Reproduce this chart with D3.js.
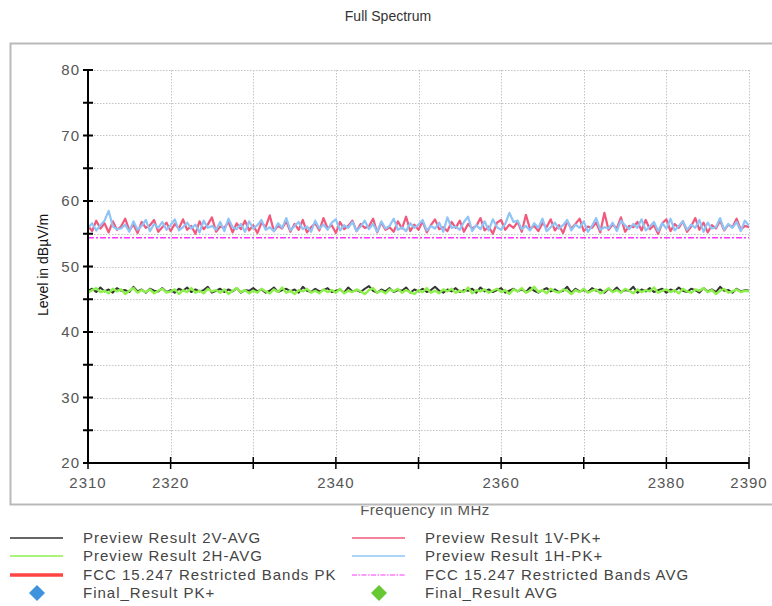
<!DOCTYPE html>
<html><head><meta charset="utf-8">
<script src="https://cdn.jsdelivr.net/npm/d3@7"></script>
<style>
body{margin:0;background:#fff;}
text{font-family:"Liberation Sans",Arial,sans-serif;}
</style></head>
<body><svg id="c" width="772" height="606"></svg>
<script>
const title = "Full Spectrum";
const xLabel = "Frequency in MHz";
const yLabel = "Level in dBµV/m";
const xDomain = [2310, 2390];
const yDomain = [20, 80];
const xTickLabels = [2310, 2320, 2340, 2360, 2380, 2390];
const xTicks = [2310, 2320, 2330, 2340, 2350, 2360, 2370, 2380, 2390];
const yTickLabels = [20, 30, 40, 50, 60, 70, 80];
const yTicks = [20, 25, 30, 35, 40, 45, 50, 55, 60, 65, 70, 75, 80];
const freqStart = 2310, freqStep = 0.5;

const pk1V = [
56.2,55.4,57.0,55.8,56.6,55.2,56.9,55.6,56.1,57.3,55.5,56.4,55.1,56.8,55.9,56.3,57.1,55.3,56.0,56.7,
55.4,56.5,55.8,57.2,55.6,56.2,55.0,56.9,55.7,56.4,57.5,55.3,56.1,55.9,56.8,55.2,56.6,55.7,57.0,55.5,
56.3,55.1,56.7,56.0,57.8,55.4,56.2,55.8,56.9,55.3,56.5,55.6,57.1,55.2,56.0,56.6,55.5,57.4,55.8,56.3,
55.1,56.8,55.7,56.2,57.0,55.4,56.5,55.9,56.1,57.3,55.2,56.7,55.6,56.0,55.3,56.9,55.8,57.6,55.4,56.4,
55.6,56.9,55.2,56.3,57.2,55.7,56.0,55.4,56.8,55.9,57.0,55.3,56.5,55.8,56.2,57.4,55.5,56.1,55.0,56.7,
57.1,55.6,56.4,55.9,56.8,55.3,57.9,55.7,56.2,55.4,56.6,56.0,57.2,55.5,56.3,55.1,56.9,55.8,56.5,57.3,
55.4,56.1,55.9,56.7,55.2,58.2,55.6,56.4,55.8,57.5,55.3,56.2,56.0,56.8,55.5,57.1,55.7,56.3,55.0,56.6,
57.2,55.4,56.5,55.9,56.9,55.3,56.1,57.4,55.6,56.7,55.2,56.3,55.8,57.0,55.5,56.4,56.0,57.3,55.6,56.2,
56.0];
const pk1H = [
55.9,56.6,55.5,56.3,57.0,58.5,56.1,55.7,55.8,56.4,55.3,56.9,55.6,56.2,57.1,55.4,56.5,55.9,56.8,55.6,
56.3,57.2,55.5,56.0,56.7,55.8,56.4,55.2,57.0,55.9,56.2,55.6,56.8,55.4,57.3,56.0,55.7,56.5,55.3,56.9,
55.8,56.3,57.1,55.6,56.0,55.4,56.6,55.9,57.4,55.5,56.2,56.8,55.7,56.1,55.3,57.0,55.8,56.4,55.6,56.7,
57.2,55.5,56.3,55.9,56.8,55.4,56.1,57.0,55.7,56.5,55.3,56.9,55.8,56.2,57.3,55.6,56.0,55.4,56.6,55.9,
56.4,57.1,55.5,56.2,55.8,56.7,55.3,57.5,55.9,56.1,55.6,56.8,57.6,55.4,56.3,55.7,56.9,55.5,57.2,56.0,
55.6,56.5,58.2,56.8,57.0,55.7,56.2,55.5,56.6,55.9,57.3,55.4,56.0,56.7,55.8,56.3,57.1,55.5,56.4,55.9,
56.9,55.3,56.2,57.4,55.6,56.0,55.8,56.7,55.4,57.0,56.3,55.7,56.5,55.9,57.2,55.5,56.1,56.8,55.4,56.6,
55.8,57.3,55.5,56.2,56.9,55.6,56.4,55.9,57.1,55.3,56.7,55.8,56.0,57.4,55.6,56.5,55.9,56.8,55.4,57.0,
56.2];
const avg2V = [
46.3,46.6,46.1,46.8,46.2,46.5,46.0,46.7,46.3,46.4,46.1,46.9,46.2,46.5,46.0,46.6,46.3,46.2,46.7,46.1,
46.4,46.0,46.6,46.3,46.8,46.1,46.5,46.2,46.4,46.9,46.0,46.3,46.6,46.1,46.5,46.2,46.7,46.0,46.4,46.3,
46.7,46.2,46.5,46.0,46.3,46.8,46.1,46.4,46.6,46.2,46.5,46.0,46.9,46.3,46.1,46.6,46.2,46.4,46.7,46.1,
46.3,46.5,46.0,46.8,46.2,46.4,46.1,46.6,47.0,46.3,46.0,46.5,46.2,46.7,46.1,46.4,46.3,46.8,46.0,46.5,
46.2,46.6,46.1,46.4,46.9,46.3,46.0,46.5,46.2,46.7,46.1,46.4,46.3,46.6,46.0,46.8,46.2,46.5,46.1,46.4,
46.7,46.0,46.3,46.6,46.2,46.5,46.1,46.8,46.3,46.0,46.4,46.7,46.2,46.5,46.1,46.3,46.9,46.0,46.6,46.2,
46.4,46.1,46.7,46.3,46.5,46.0,46.6,46.2,46.8,46.1,46.4,46.3,46.9,46.0,46.5,46.2,46.7,46.1,46.4,46.6,
46.0,46.5,46.2,46.8,46.3,46.1,46.6,46.4,46.0,46.7,46.2,46.5,46.1,46.9,46.3,46.4,46.0,46.6,46.2,46.4,
46.3];
const avg2H = [
46.0,46.4,46.7,46.1,46.3,45.9,46.6,46.2,46.5,45.8,46.3,46.7,46.0,46.4,46.1,46.5,45.9,46.3,46.6,46.0,
46.2,46.5,45.8,46.4,46.1,46.7,46.0,46.3,45.9,46.6,46.2,46.4,46.0,46.5,45.8,46.3,46.7,46.1,46.4,45.9,
46.3,46.0,46.6,46.2,45.9,46.5,46.1,46.8,46.0,46.3,45.8,46.4,46.2,46.6,46.0,46.3,45.9,46.5,46.1,46.4,
46.0,46.6,45.9,46.3,46.1,46.5,46.2,45.8,46.4,46.7,46.0,46.3,45.9,46.5,46.2,46.6,46.0,46.4,46.1,45.8,
46.4,46.1,46.7,46.0,46.3,45.9,46.5,46.2,46.6,46.0,46.3,46.1,46.8,45.9,46.4,46.2,46.5,46.0,46.3,46.6,
46.1,46.4,45.8,46.5,46.2,46.7,46.0,46.3,46.9,46.1,46.4,45.9,46.6,46.2,46.0,46.5,46.3,45.8,46.4,46.1,
46.6,46.0,46.3,46.5,45.9,46.2,46.7,46.1,46.4,46.0,46.6,46.3,45.9,46.5,46.1,46.4,46.2,46.8,46.0,46.3,
46.5,46.1,46.4,45.9,46.6,46.2,46.0,46.5,46.3,46.7,46.1,46.4,45.8,46.3,46.6,46.0,46.2,46.5,46.1,46.3,
46.2];
const limitAvgFreq = [2310, 2390];
const limitAvgLevel = [54.4, 54.4];

const legendNames = ["Preview Result 2V-AVG","Preview Result 1V-PK+","Preview Result 2H-AVG","Preview Result 1H-PK+",
  "FCC 15.247 Restricted Bands PK","FCC 15.247 Restricted Bands AVG","Final_Result PK+","Final_Result AVG"];

const svg = d3.select("#c");
const W = 772, H = 606;
const m = {l:88, r:749, t:70, b:463};
const x = d3.scaleLinear().domain(xDomain).range([m.l, m.r]);
const y = d3.scaleLinear().domain(yDomain).range([m.b, m.t]);

// outer frame
svg.append("rect").attr("x",10.5).attr("y",43.5).attr("width",800).attr("height",461)
  .attr("fill","none").attr("stroke","#b9b9b9").attr("stroke-width",2);

svg.append("text").attr("x",388).attr("y",21).attr("text-anchor","middle")
  .attr("font-size",14).attr("fill","#333").text(title);

// grid
const grid = svg.append("g").attr("stroke","#c4c4c4").attr("stroke-width",1).attr("stroke-dasharray","1.5,1.5");
grid.selectAll("line.h").data(yTicks.filter(d=>d>yDomain[0])).enter().append("line")
  .attr("x1",m.l).attr("x2",m.r).attr("y1",d=>Math.round(y(d))+0.5).attr("y2",d=>Math.round(y(d))+0.5);
grid.selectAll("line.v").data(xTicks.filter(d=>d>xDomain[0])).enter().append("line")
  .attr("y1",m.t).attr("y2",m.b).attr("x1",d=>Math.round(x(d))+0.5).attr("x2",d=>Math.round(x(d))+0.5);

// clip
svg.append("clipPath").attr("id","pc").append("rect").attr("x",m.l).attr("y",m.t).attr("width",m.r-m.l).attr("height",m.b-m.t);
const plot = svg.append("g").attr("clip-path","url(#pc)");
const freqs = pk1V.map((_,i)=>freqStart + i*freqStep);
const line = d3.line().x(d=>x(d[0])).y(d=>y(d[1]));
function trace(vals, color, w){
  plot.append("path").datum(vals.map((v,i)=>[freqs[i], v])).attr("d",line)
    .attr("fill","none").attr("stroke",color).attr("stroke-width",w).attr("stroke-linejoin","round");
}
trace(pk1V, "#f0587c", 2.2);
trace(pk1H, "#8ec4f6", 2.2);
plot.append("path").datum(limitAvgFreq.map((f,i)=>[f, limitAvgLevel[i]])).attr("d",line)
  .attr("fill","none").attr("stroke","#ff33ff").attr("stroke-width",1.5).attr("stroke-dasharray","6,2,2,2");
trace(avg2V, "#333333", 2);
trace(avg2H, "#8ef04c", 2.4);

// axes
const ax = svg.append("g").attr("stroke","#000").attr("stroke-width",2);
ax.append("line").attr("x1",m.l).attr("x2",m.l).attr("y1",m.t).attr("y2",m.b);
ax.append("line").attr("x1",m.l).attr("x2",m.r).attr("y1",m.b).attr("y2",m.b);
ax.selectAll("line.yt").data(yTicks).enter().append("line")
  .attr("x1",m.l-5).attr("x2",m.l+5).attr("y1",d=>y(d)).attr("y2",d=>y(d));
ax.selectAll("line.xt").data(xTicks).enter().append("line")
  .attr("x1",d=>x(d)).attr("x2",d=>x(d)).attr("y1",m.b-6).attr("y2",m.b+6).attr("stroke-width",1.5);

svg.selectAll("text.yl").data(yTickLabels).enter().append("text")
  .attr("x",m.l-8).attr("y",d=>y(d)+5).attr("text-anchor","end").attr("font-size",15)
  .attr("letter-spacing",1).attr("fill","#555").text(d=>d);
svg.selectAll("text.xl").data(xTickLabels).enter().append("text")
  .attr("x",d=>x(d)).attr("y",488).attr("text-anchor","middle").attr("font-size",15)
  .attr("letter-spacing",1).attr("fill","#555").text(d=>d);

svg.append("text").attr("transform","translate(48,265) rotate(-90)").attr("text-anchor","middle")
  .attr("font-size",14).attr("fill","#111").text(yLabel);

svg.append("clipPath").attr("id","xc").append("rect").attr("x",0).attr("y",506).attr("width",W).attr("height",30);
svg.append("text").attr("x",425).attr("y",515).attr("text-anchor","middle").attr("clip-path","url(#xc)")
  .attr("font-size",15).attr("letter-spacing",0.5).attr("fill","#555").text(xLabel);

// legend
const legRows = [538, 556, 575, 593];
const legCols = [{lx:10, tx:83}, {lx:352, tx:425}];
const legStyles = [
  {type:"line", color:"#333", w:1.5},
  {type:"line", color:"#f0587c", w:1.5},
  {type:"line", color:"#8ef04c", w:1.5},
  {type:"line", color:"#8ec4f6", w:1.5},
  {type:"line", color:"#ff4444", w:3.5},
  {type:"line", color:"#ff33ff", w:1.2, dash:"5,1.5,1.5,1.5"},
  {type:"diamond", color:"#3f93dc"},
  {type:"diamond", color:"#66c833"}
];
const leg = svg.append("g");
legendNames.forEach((name,i)=>{
  const r = legRows[Math.floor(i/2)], c = legCols[i%2], s = legStyles[i];
  if (s.type==="line") {
    leg.append("line").attr("x1",c.lx).attr("x2",c.lx+53).attr("y1",r).attr("y2",r)
      .attr("stroke",s.color).attr("stroke-width",s.w).attr("stroke-dasharray",s.dash||null);
  } else {
    leg.append("path").attr("d",d3.symbol().type(d3.symbolSquare).size(128)())
      .attr("transform",`translate(${c.lx+27},${r}) rotate(45)`).attr("fill",s.color);
  }
  leg.append("text").attr("x",c.tx).attr("y",r+5).attr("font-size",15).attr("letter-spacing",1.0)
    .attr("fill","#444").text(name);
});
</script></body></html>
